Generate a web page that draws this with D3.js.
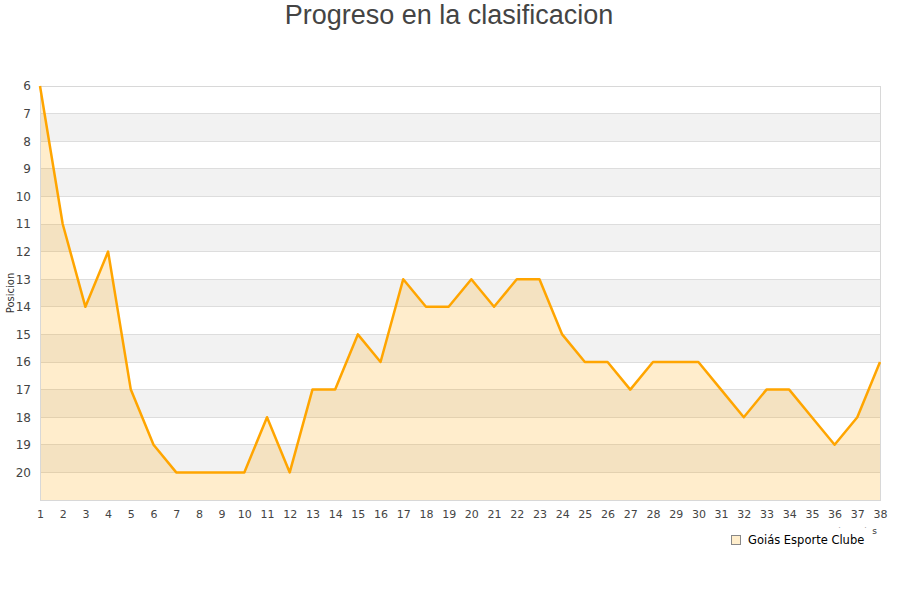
<!DOCTYPE html>
<html>
<head>
<meta charset="utf-8">
<script src="https://cdn.jsdelivr.net/npm/d3@7"></script>
<style>
  body { margin: 0; background: #fff; }
  svg text { font-family: "DejaVu Sans", sans-serif; }
</style>
</head>
<body>
<div id="root"></div>
<script>
// Data
const jornadas = d3.range(1, 39);
const posiciones = [6, 11, 14, 12, 17, 19, 20, 20, 20, 20, 18, 20, 17, 17, 15, 16, 13, 14, 14, 13,
                    14, 13, 13, 15, 16, 16, 17, 16, 16, 16, 17, 18, 17, 17, 18, 19, 18, 16];
const yTicks = d3.range(6, 21);
const equipo = "Goiás Esporte Clube";

// Margin convention
const margin = { top: 86, right: 20, bottom: 100, left: 40 },
    width = 900 - margin.left - margin.right,
    height = 600 - margin.top - margin.bottom;

const svg = d3.select("#root")
    .append("svg")
    .attr("width", 900)
    .attr("height", 600);

// Title
svg.append("text")
    .attr("x", 449)
    .attr("y", 24)
    .attr("text-anchor", "middle")
    .style("font-family", "'Liberation Sans', Arial, sans-serif")
    .style("font-size", "27px")
    .attr("fill", "#444")
    .text("Progreso en la clasificacion");

const g = svg.append("g")
    .attr("transform", "translate(" + margin.left + "," + margin.top + ")");

const x = d3.scaleLinear().domain([1, 38]).range([0, width]);
const y = d3.scaleLinear().domain([6, 21]).range([0, height]);

// alternating bands
g.selectAll(".band")
    .data(d3.range(6, 21))
    .enter()
    .append("rect")
    .attr("x", 0)
    .attr("width", width)
    .attr("y", d => y(d))
    .attr("height", d => y(d + 1) - y(d))
    .attr("fill", d => (d % 2 === 1) ? "#f2f2f2" : "#ffffff");

// grid lines
g.selectAll(".grid")
    .data(d3.range(6, 22))
    .enter()
    .append("line")
    .attr("x1", 0).attr("x2", width)
    .attr("y1", d => y(d)).attr("y2", d => y(d))
    .attr("stroke", "#dddddd")
    .attr("stroke-width", 1)
    .attr("shape-rendering", "crispEdges");

// area
const area = d3.area()
    .x((d, i) => x(jornadas[i]))
    .y0(y(21))
    .y1(d => y(d));
g.append("path")
    .datum(posiciones)
    .attr("d", area)
    .attr("fill", "rgba(255,165,0,0.2)");

// frame
g.append("rect")
    .attr("x", 0).attr("y", 0)
    .attr("width", width).attr("height", height)
    .attr("fill", "none")
    .attr("stroke", "#d8d8d8")
    .attr("shape-rendering", "crispEdges");

// line
const line = d3.line()
    .x((d, i) => x(jornadas[i]))
    .y(d => y(d));
g.append("path")
    .datum(posiciones)
    .attr("d", line)
    .attr("fill", "none")
    .attr("stroke", "#ffa500")
    .attr("stroke-width", 2.5)
    .attr("stroke-linejoin", "round");

// Y axis
const yAxis = g.append("g")
    .call(d3.axisLeft(y).tickValues(yTicks).tickSize(0).tickPadding(9));
yAxis.select(".domain").remove();
yAxis.selectAll("text")
    .style("font-size", "12px")
    .attr("fill", "#444");

// X axis
const xAxis = g.append("g")
    .attr("transform", "translate(0," + height + ")")
    .call(d3.axisBottom(x).tickValues(jornadas).tickFormat(d3.format("d")).tickSize(0).tickPadding(10));
xAxis.select(".domain").remove();
xAxis.selectAll("text")
    .style("font-size", "11px")
    .attr("fill", "#444");

// Y label
svg.append("text")
    .attr("transform", "translate(14,293) rotate(-90)")
    .attr("text-anchor", "middle")
    .style("font-size", "10px")
    .attr("fill", "#333")
    .text("Posicion");

// X label, mostly hidden behind the legend box
svg.append("text")
    .attr("x", 877)
    .attr("y", 534)
    .attr("text-anchor", "end")
    .style("font-size", "9px")
    .attr("fill", "#333")
    .text("jornadas");

// Legend
const legend = svg.append("g");
legend.append("rect")
    .attr("x", 722).attr("y", 527.5)
    .attr("width", 150).attr("height", 24)
    .attr("fill", "#fff");
legend.append("rect")
    .attr("x", 731.5).attr("y", 535.5)
    .attr("width", 9).attr("height", 9)
    .attr("fill", "#ffeecc")
    .attr("stroke", "#888")
    .attr("stroke-width", 1);
legend.append("text")
    .attr("x", 748)
    .attr("y", 544)
    .style("font-size", "11.5px")
    .attr("fill", "#000")
    .text(equipo);
</script>
</body>
</html>
